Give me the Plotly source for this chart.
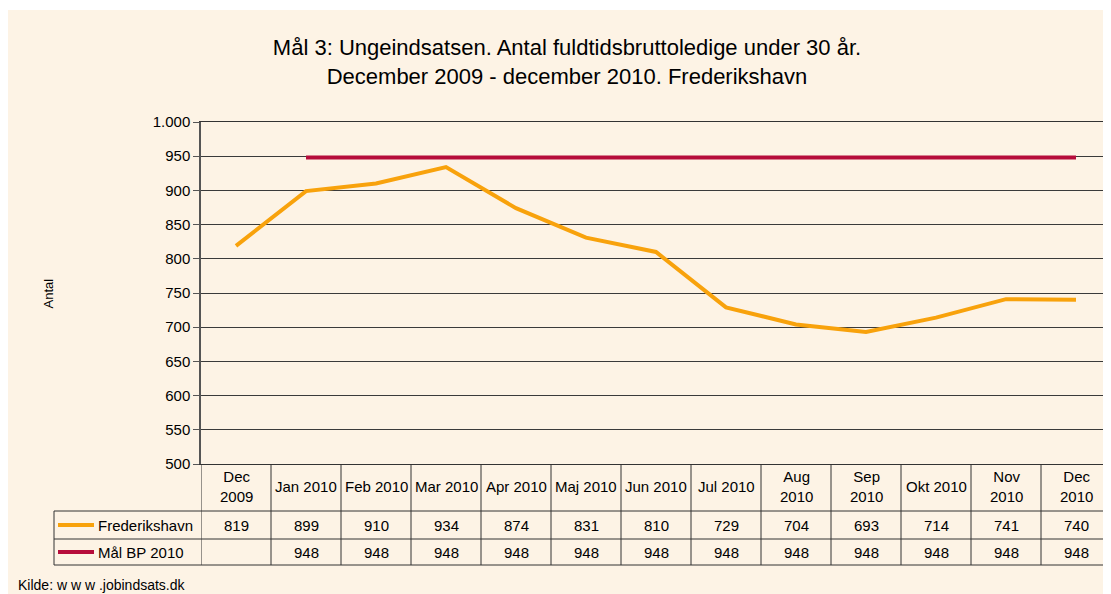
import plotly.graph_objects as go

# data
months = ['Dec<br>2009', 'Jan 2010', 'Feb 2010', 'Mar 2010', 'Apr 2010', 'Maj 2010',
          'Jun 2010', 'Jul 2010', 'Aug<br>2010', 'Sep<br>2010', 'Okt 2010',
          'Nov<br>2010', 'Dec<br>2010']
frederikshavn = [819, 899, 910, 934, 874, 831, 810, 729, 704, 693, 714, 741, 740]
maal_bp = [None, 948, 948, 948, 948, 948, 948, 948, 948, 948, 948, 948, 948]
series_names = ['Frederikshavn', 'Mål BP 2010']

ORANGE = '#F8A20C'
RED = '#B60C3B'
CREAM = '#FDF3E5'
FONT = 'Liberation Sans, Arial, sans-serif'

# the page body has an 8px margin, so the figure is placed at (8, 8)
OFF = 8
W, H = 1111 - OFF, 594 - OFF
L, R, T, B = 201 - OFF, 0, 122 - OFF, 594 - 464
PW, PH = W - L - R, H - T - B


def px(p):
    # p in screen pixels -> paper x
    return (p - OFF - L) / PW


def py(p):
    # p in screen pixels -> paper y
    return (H - B - (p - OFF)) / PH


fig = go.Figure()
fig.add_trace(go.Scatter(x=months, y=frederikshavn, mode='lines', name=series_names[0],
                         line=dict(color=ORANGE, width=4), showlegend=False))
fig.add_trace(go.Scatter(x=months, y=maal_bp, mode='lines', name=series_names[1],
                         line=dict(color=RED, width=4), showlegend=False))

shapes = []
# cream panel
shapes.append(dict(type='rect', xref='paper', yref='paper', layer='below',
                   x0=px(OFF), x1=px(1111) + 0.01, y0=py(594), y1=py(10),
                   fillcolor=CREAM, line=dict(width=0)))

line_col = '#333333'
# table horizontal lines
for yy in [511, 539, 565]:
    shapes.append(dict(type='line', xref='paper', yref='paper',
                       x0=px(54), x1=1, y0=py(yy), y1=py(yy),
                       line=dict(color=line_col, width=1)))
# left edge of row labels
shapes.append(dict(type='line', xref='paper', yref='paper',
                   x0=px(54), x1=px(54), y0=py(511), y1=py(565),
                   line=dict(color=line_col, width=1)))
# column separators
for k in range(len(months) + 1):
    shapes.append(dict(type='line', xref='x', yref='paper',
                       x0=k - 0.5, x1=k - 0.5, y0=0, y1=py(565),
                       line=dict(color=line_col, width=1)))
# legend keys inside table
for yy, col in [(525, ORANGE), (552, RED)]:
    shapes.append(dict(type='line', xref='paper', yref='paper',
                       x0=px(58), x1=px(94), y0=py(yy), y1=py(yy),
                       line=dict(color=col, width=4)))

tfont = dict(size=15, color='black', family=FONT)
annotations = []
for i, m in enumerate(months):
    annotations.append(dict(x=i, y=py(486), xref='x', yref='paper', text=m,
                            showarrow=False, font=tfont,
                            xanchor='center', yanchor='middle'))
    for vals, yy in [(frederikshavn, 525), (maal_bp, 552)]:
        if vals[i] is not None:
            annotations.append(dict(x=i, y=py(yy), xref='x', yref='paper', text=str(vals[i]),
                                    showarrow=False, font=tfont,
                                    xanchor='center', yanchor='middle'))
for name, yy in zip(series_names, [525, 552]):
    annotations.append(dict(x=px(96), y=py(yy), xref='paper', yref='paper', text=name,
                            showarrow=False, font=tfont,
                            xanchor='left', yanchor='middle'))
annotations.append(dict(x=px(38), y=py(294), xref='paper', yref='paper', text='Antal',
                        textangle=-90, showarrow=False,
                        font=dict(size=13, color='black', family=FONT)))
annotations.append(dict(x=px(16), y=py(585), xref='paper', yref='paper',
                        text='Kilde: w w w .jobindsats.dk', showarrow=False,
                        xanchor='left', yanchor='middle',
                        font=dict(size=14, color='black', family=FONT)))

fig.update_layout(
    width=W, height=H,
    margin=dict(l=L, r=R, t=T, b=B),
    paper_bgcolor='white',
    plot_bgcolor='rgba(0,0,0,0)',
    separators=',.',
    title=dict(text='Mål 3: Ungeindsatsen. Antal fuldtidsbruttoledige under 30 år.<br>'
                    'December 2009 - december 2010. Frederikshavn',
               x=(567 - OFF) / W, xanchor='center', y=1 - (55 - OFF) / H, yanchor='middle',
               font=dict(size=22, color='black', family=FONT)),
    xaxis=dict(type='category', range=[-0.5, len(months) - 0.5], showticklabels=False,
               showgrid=False, zeroline=False, ticks='', showline=True, mirror=True,
               linecolor='#333333', linewidth=1),
    yaxis=dict(range=[500, 1000], dtick=50, tickformat=',d', showgrid=True,
               gridcolor='#3a3a3a', gridwidth=1, showline=True, linecolor='#555555',
               linewidth=1.5, ticks='outside', ticklen=6, tickcolor='#555555',
               zeroline=False, tickfont=dict(size=15, color='black', family=FONT)),
    shapes=shapes,
    annotations=annotations,
)

fig.write_html('out.html')
